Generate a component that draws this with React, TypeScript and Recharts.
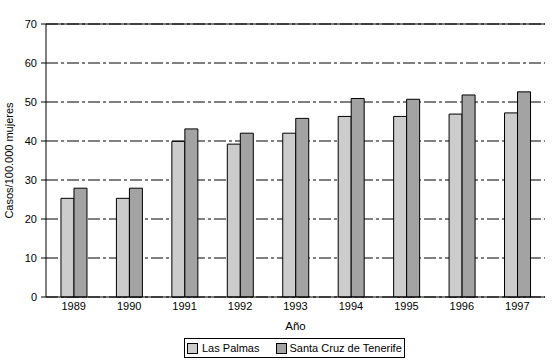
import React from 'react';
import { BarChart, Bar, XAxis, YAxis, CartesianGrid, Legend, ReferenceLine } from 'recharts';

const years = ['1989', '1990', '1991', '1992', '1993', '1994', '1995', '1996', '1997'];
const lasPalmas = [25.3, 25.3, 39.9, 39.2, 42.0, 46.3, 46.3, 46.9, 47.2];
const santaCruz = [27.9, 27.9, 43.1, 42.0, 45.8, 50.9, 50.7, 51.8, 52.6];
const yTicks = [0, 10, 20, 30, 40, 50, 60, 70];
const boundaryTicks = [0, 1, 2, 3, 4, 5, 6, 7, 8, 9];

const data = years.map((y, i) => ({ year: y, lp: lasPalmas[i], sc: santaCruz[i] }));

const FONT = '"Liberation Sans", Arial, sans-serif';
const LP_COLOR = '#CCCCCC';
const SC_COLOR = '#A3A3A3';

const LegendBox = () => (
  <div
    style={{
      border: '1px solid #000',
      height: 18,
      display: 'flex',
      alignItems: 'center',
      fontFamily: FONT,
      fontSize: 11,
      color: '#000',
      boxSizing: 'content-box',
      whiteSpace: 'nowrap',
      paddingRight: 2,
    }}
  >
    <span style={{ width: 9, height: 9, background: LP_COLOR, border: '1px solid #000', marginLeft: 2, marginRight: 4 }} />
    <span>Las Palmas</span>
    <span style={{ width: 9, height: 9, background: SC_COLOR, border: '1px solid #000', marginLeft: 17, marginRight: 2 }} />
    <span>Santa Cruz de Tenerife</span>
  </div>
);

export default function App() {
  return (
    <div style={{ position: 'absolute', left: 0, top: 0, background: '#fff' }}>
      <BarChart
        width={555}
        height={363}
        data={data}
        margin={{ top: 24, right: 10, bottom: 30, left: 0 }}
        barCategoryGap="27%"
        barGap={0}
      >
        <CartesianGrid vertical={false} stroke="#000" strokeDasharray="12 3 3 3" />
        <XAxis
          xAxisId="grid"
          type="number"
          domain={[0, 9]}
          ticks={boundaryTicks}
          interval={0}
          tickFormatter={() => ''}
          tickSize={5}
          axisLine={false}
          tickLine={{ stroke: '#000' }}
          height={0}
        />
        <XAxis
          dataKey="year"
          height={36}
          tickLine={false}
          tickSize={5}
          tickMargin={0}
          axisLine={{ stroke: '#000' }}
          tick={{ fill: '#000', fontSize: 11, fontFamily: FONT }}
          label={{ value: 'Año', position: 'insideBottom', offset: 3, fill: '#000', fontSize: 11.5, fontFamily: FONT }}
        />
        <YAxis
          width={46}
          domain={[0, 70]}
          ticks={yTicks}
          interval={0}
          tickSize={5}
          tickMargin={4}
          axisLine={{ stroke: '#000' }}
          tickLine={{ stroke: '#000' }}
          tick={{ fill: '#000', fontSize: 11, fontFamily: FONT }}
          label={{
            value: 'Casos/100.000 mujeres',
            angle: -90,
            position: 'insideLeft',
            offset: 9,
            fill: '#000',
            fontSize: 11,
            fontFamily: FONT,
            style: { textAnchor: 'middle' },
          }}
        />
        <ReferenceLine y={70} stroke="#000" strokeWidth={1.2} />
        <ReferenceLine x={9} xAxisId="grid" stroke="#000" strokeWidth={1.2} />
        <Bar dataKey="lp" name="Las Palmas" fill={LP_COLOR} stroke="#000" strokeWidth={1} isAnimationActive={false} />
        <Bar dataKey="sc" name="Santa Cruz de Tenerife" fill={SC_COLOR} stroke="#000" strokeWidth={1} isAnimationActive={false} />
        <Legend
          verticalAlign="middle"
          content={<LegendBox />}
          wrapperStyle={{ position: 'absolute', left: 184, top: 338, width: 'auto', height: 20 }}
        />
      </BarChart>
    </div>
  );
}
